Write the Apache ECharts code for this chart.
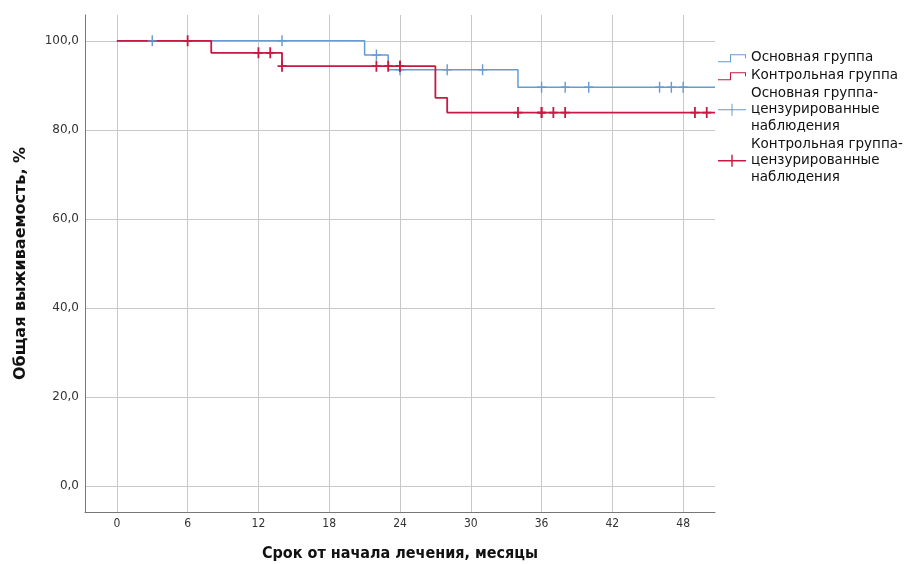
<!DOCTYPE html>
<html>
<head>
<meta charset="utf-8">
<script src="https://cdn.jsdelivr.net/npm/echarts@6/dist/echarts.min.js"></script>
<style>html,body{margin:0;padding:0;background:#fff}#c{width:908px;height:564px}</style>
</head>
<body>
<div id="c"></div>
<script>
// ---- data ----
var xTicks = [0, 6, 12, 18, 24, 30, 36, 42, 48];
var yTicks = [0, 20, 40, 60, 80, 100];
var mainSteps = [[0, 100], [21, 96.8], [23, 93.5], [34, 89.6], [50.7, 89.6]];
var ctrlSteps = [[0, 100], [8, 97.3], [14, 94.3], [27, 87.2], [28, 83.9], [50.7, 83.9]];
var mainCensored = [[3, 100], [14, 100], [22, 96.8], [24, 93.5], [28, 93.5], [31, 93.5], [36, 89.6], [38, 89.6], [40, 89.6], [46, 89.6], [47, 89.6], [48, 89.6]];
var ctrlCensored = [[6, 100], [12, 97.3], [13, 97.3], [14, 94.3], [22, 94.3], [23, 94.3], [24, 94.3], [24, 94.3], [34, 83.9], [36, 83.9], [36, 83.9], [37, 83.9], [38, 83.9], [49, 83.9], [50, 83.9]];
var names = ['Основная группа', 'Контрольная группа', 'Основная группа-\nцензурированные\nнаблюдения', 'Контрольная группа-\nцензурированные\nнаблюдения'];

var BLUE = '#649bd2', RED = '#c41a44';
// legend icons (bounding box 28x12)
var stepIcon = 'path://M0,0 M28,12 M0,10 L12,10 L12,3 L28,3 L28,7 L27,7 L27,4 L13,4 L13,11 L0,11 Z';
var legPlusThin = 'path://M0,5.5 L28,5.5 L28,6.5 L0,6.5 Z M13.5,0 L14.5,0 L14.5,12 L13.5,12 Z';
var legPlusThick = 'path://M0,5.3 L28,5.3 L28,6.7 L0,6.7 Z M13.3,0 L14.7,0 L14.7,12 L13.3,12 Z';
// censor marks in the plot
var plusThin = 'path://M3.8,0 L5.2,0 L5.2,4.4 L9,4.4 L9,5.6 L5.2,5.6 L5.2,10 L3.8,10 L3.8,5.6 L0,5.6 L0,4.4 L3.8,4.4 Z';
var plusThick = 'path://M3.6,0 L5.4,0 L5.4,4.2 L9,4.2 L9,5.8 L5.4,5.8 L5.4,10 L3.6,10 L3.6,5.8 L0,5.8 L0,4.2 L3.6,4.2 Z';

var chart = echarts.init(document.getElementById('c'), null, {renderer: 'canvas'});
chart.setOption({
  animation: false,
  backgroundColor: '#fff',
  grid: {left: 85, right: 193, top: 15, bottom: 52, containLabel: false, outerBoundsMode: 'none'},
  xAxis: {
    type: 'value', min: -2.7, max: 50.7,
    name: 'Срок от начала лечения, месяцы', nameLocation: 'middle', nameGap: 34,
    nameTextStyle: {fontFamily: 'DejaVu Sans Condensed', fontWeight: 'bold', fontSize: 16, color: '#111'},
    axisLine: {show: true, onZero: false, lineStyle: {color: '#777', width: 1}},
    axisTick: {show: false, customValues: xTicks},
    axisLabel: {customValues: xTicks, margin: 6, fontFamily: 'DejaVu Sans Condensed', fontSize: 12, color: '#333'},
    splitLine: {show: true, lineStyle: {color: '#c8c8c8', width: 1}}
  },
  yAxis: {
    type: 'value', min: -5.8, max: 105.8,
    name: 'Общая выживаемость, %', nameLocation: 'middle', nameGap: 56, nameRotate: 90,
    nameTextStyle: {fontFamily: 'DejaVu Sans', fontWeight: 'bold', fontSize: 16, color: '#111'},
    axisLine: {show: true, onZero: false, lineStyle: {color: '#777', width: 1}},
    axisTick: {show: false, customValues: yTicks},
    axisLabel: {customValues: yTicks, margin: 6, fontFamily: 'DejaVu Sans', fontSize: 12, color: '#333',
      formatter: function (v) { return v.toFixed(1).replace('.', ','); }},
    splitLine: {show: true, lineStyle: {color: '#c8c8c8', width: 1}}
  },
  legend: {
    orient: 'vertical', left: 713, top: 44, itemGap: 1.5, itemWidth: 28, itemHeight: 12,
    textStyle: {fontFamily: 'DejaVu Sans', fontSize: 13.5, color: '#111', lineHeight: 16.5},
    data: [
      {name: names[0], icon: stepIcon},
      {name: names[1], icon: stepIcon},
      {name: names[2], icon: legPlusThin},
      {name: names[3], icon: legPlusThick}
    ]
  },
  series: [
    {name: names[0], type: 'line', step: 'end', data: mainSteps, showSymbol: false, symbol: 'none',
      lineStyle: {color: BLUE, width: 1.5}, itemStyle: {color: BLUE}, z: 2},
    {name: names[1], type: 'line', step: 'end', data: ctrlSteps, showSymbol: false, symbol: 'none',
      lineStyle: {color: RED, width: 1.8}, itemStyle: {color: RED}, z: 3},
    {name: names[2], type: 'scatter', data: mainCensored, symbol: plusThin, symbolSize: [9, 11],
      itemStyle: {color: BLUE, opacity: 1}, z: 4},
    {name: names[3], type: 'scatter', data: ctrlCensored, symbol: plusThick, symbolSize: [9, 11],
      itemStyle: {color: RED, opacity: 1}, z: 5}
  ]
});
</script>
</body>
</html>
